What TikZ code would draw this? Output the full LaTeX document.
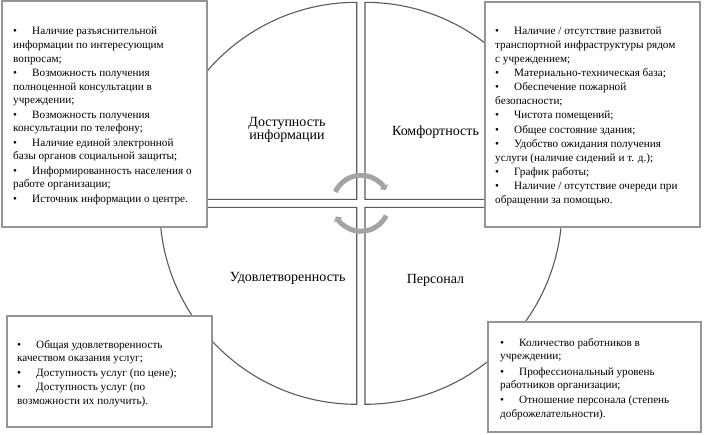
\documentclass[tikz,border=0pt]{standalone}
\usepackage{fontspec}
\setmainfont{Liberation Serif}
\usepackage{xcolor}
\usepackage{tikz}
\usetikzlibrary{arrows.meta}

\definecolor{secline}{HTML}{5A5A5A}
\definecolor{cycgray}{HTML}{A4A4A4}
\definecolor{boxline}{HTML}{959595}
\newcommand{\bul}{\makebox[19pt][l]{\textbullet}}

\begin{document}
\begin{tikzpicture}[x=1pt, y=1pt,
  sector/.style={draw=secline, line width=1.1pt},
  cyc/.style={draw=cycgray, line width=5pt, -{Triangle[length=4pt, width=10pt]}},
  listbox/.style={draw=boxline, line width=1.1pt, fill=white},
  listtext/.style={anchor=north west, inner sep=0pt, align=left,
    font=\fontsize{11.2}{13.7}\selectfont},
  quadlabel/.style={inner sep=0pt, align=center,
    font=\fontsize{14}{13.4}\selectfont}]
  \useasboundingbox (0,0) rectangle (704,-434);

  % Four quarter sectors
  \draw[sector] (356.7,-199.3) -- ++(-197,0) arc[start angle=180, end angle=90, radius=197] -- cycle;
  \draw[sector] (365,-199.3) -- ++(0,197) arc[start angle=90, end angle=0, radius=197] -- cycle;
  \draw[sector] (356.7,-207.3) -- ++(-197,0) arc[start angle=180, end angle=270, radius=197] -- cycle;
  \draw[sector] (365,-207.3) -- ++(197,0) arc[start angle=0, end angle=-90, radius=197] -- cycle;

  % Cycle arrows in the middle
  \coordinate (mid) at (361,-203.3);
  \draw[cyc] (mid) ++(156:28) arc[start angle=156, end angle=28, radius=28];
  \draw[cyc] (mid) ++(-26:28) arc[start angle=-26, end angle=-152, radius=28];

  % Quadrant labels
  \node[quadlabel] (dostup) at (287,-130) {Доступность\\информации};
  \node[quadlabel] (komfort) at (435.5,-132) {Комфортность};
  \node[quadlabel] (udovl) at (287.7,-278.3) {Удовлетворенность};
  \node[quadlabel] (personal) at (435.5,-280) {Персонал};

  % 1. Information box
  \draw[listbox] (2,-1) rectangle (207,-227);
  \node[listtext] (dostuplist) at (13,-27) {%
    \bul Наличие разъяснительной\\
    информации по интересующим\\
    вопросам;\\[0.6pt]
    \bul Возможность получения\\
    полноценной консультации в\\
    учреждении;\\[0.6pt]
    \bul Возможность получения\\
    консультации по телефону;\\[0.6pt]
    \bul Наличие единой электронной\\
    базы органов социальной защиты;\\[0.6pt]
    \bul Информированность населения о\\
    работе организации;\\[0.6pt]
    \bul Источник информации о центре.};

  % 2. Comfort box
  \draw[listbox] (485,-2) rectangle (700,-227);
  \node[listtext] (komfortlist) at (495,-27) {%
    \bul Наличие / отсутствие развитой\\
    транспортной инфраструктуры рядом\\
    с учреждением;\\[0.6pt]
    \bul Материально-техническая база;\\[0.6pt]
    \bul Обеспечение пожарной\\
    безопасности;\\[0.6pt]
    \bul Чистота помещений;\\[0.6pt]
    \bul Общее состояние здания;\\[0.6pt]
    \bul Удобство ожидания получения\\
    услуги (наличие сидений и т. д.);\\[0.6pt]
    \bul График работы;\\[0.6pt]
    \bul Наличие / отсутствие очереди при\\
    обращении за помощью.};

  % 3. Satisfaction box
  \draw[listbox] (7,-316) rectangle (212,-427);
  \node[listtext] (udovllist) at (17,-340) {%
    \bul Общая удовлетворенность\\
    качеством оказания услуг;\\[0.6pt]
    \bul Доступность услуг (по цене);\\[0.6pt]
    \bul Доступность услуг (по\\
    возможности их получить).};

  % 4. Staff box
  \draw[listbox] (488,-322) rectangle (701,-432);
  \node[listtext] (personallist) at (500,-338) {%
    \bul Количество работников в\\
    учреждении;\\[1.4pt]
    \bul Профессиональный уровень\\
    работников организации;\\[1.4pt]
    \bul Отношение персонала (степень\\
    доброжелательности).};
\end{tikzpicture}
\end{document}
